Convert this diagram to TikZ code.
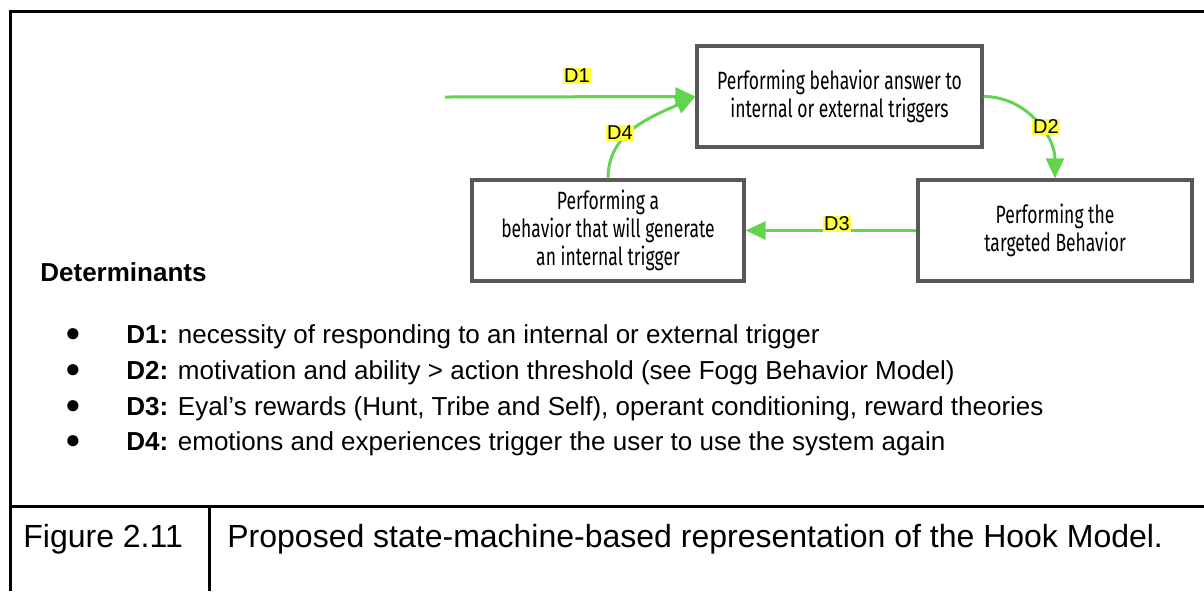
\documentclass[tikz,border=0pt]{standalone}
\usepackage{fontspec}
\setmainfont{Liberation Sans}
\newfontfamily\boxfont[FakeStretch=0.7]{Fira Sans}
\usetikzlibrary{arrows.meta}

\definecolor{hookgreen}{RGB}{99,212,77}
\definecolor{boxgray}{RGB}{89,89,89}
\definecolor{marker}{RGB}{255,255,59}

\tikzset{
  state/.style={draw=boxgray, line width=1.6pt, fill=white, align=center, inner sep=0pt,
    minimum height=50.5pt, font=\boxfont\fontsize{12.5}{13.8}\selectfont},
  hook/.style={draw=hookgreen, line width=1.5pt, -{Triangle[length=10pt,width=9pt]}},
  dlabel/.style={fill=marker, inner sep=0.6pt, font=\fontsize{10}{10}\selectfont},
  rule/.style={line width=1.5pt},
  entry/.style={anchor=base west, inner sep=0pt, font=\fontsize{13}{15}\selectfont},
}

\begin{document}
\begin{tikzpicture}[x=0.5pt, y=-0.5pt]
  \useasboundingbox (0,0) rectangle (1204,591);

  % table frame
  \draw[rule] (1204,11) -- (10,11) -- (10,591);
  \draw[rule] (10,506) -- (1204,506);
  \draw[rule] (209,506) -- (209,591);

  % the three states
  \node[state, minimum width=142.5pt] (answer) at (839.5,96.5) {Performing behavior answer to\\internal or external triggers};
  \node[state, minimum width=137pt] (target) at (1055,230.5) {Performing the\\targeted Behavior};
  \node[state, minimum width=136pt] (generate) at (608,230.5) {Performing a\\behavior that will generate\\an internal trigger};

  % transitions
  \coordinate (start) at (445,97);
  \draw[hook] (start) -- (answer.west) node[dlabel] (d1) at (577,76) {D1};
  \draw[hook] (answer.east) to[out=0, in=90] (target.north);
  \node[dlabel] (d2) at (1046,127) {D2};
  \draw[hook] (target.west) -- (generate.east) node[dlabel] (d3) at (837,224) {D3};
  \draw[hook] (generate.north) to[out=90, in=205] (answer.west);
  \node[dlabel] (d4) at (620,133) {D4};

  % determinants
  \node[entry, font=\bfseries\fontsize{13}{15}\selectfont] (head) at (40,281) {Determinants};
  \foreach \y/\d/\txt in {343/1/{necessity of responding to an internal or external trigger},
      379/2/{motivation and ability > action threshold (see Fogg Behavior Model)},
      415/3/{Eyal’s rewards (Hunt, Tribe and Self), operant conditioning, reward theories},
      450/4/{emotions and experiences trigger the user to use the system again}}
  {
    \node[font=\fontsize{13}{13}\selectfont, inner sep=0pt] (dot\d) at (73,\y-8) {●};
    \node[entry] (item\d) at (126,\y) {\textbf{D\d:} \txt};
  }

  % caption row
  \node[entry, font=\fontsize{16}{18}\selectfont] (fignum) at (23,547) {Figure 2.11};
  \node[entry, font=\fontsize{16}{18}\selectfont] (figcap) at (227,547) {Proposed state-machine-based representation of the Hook Model.};
\end{tikzpicture}
\end{document}
